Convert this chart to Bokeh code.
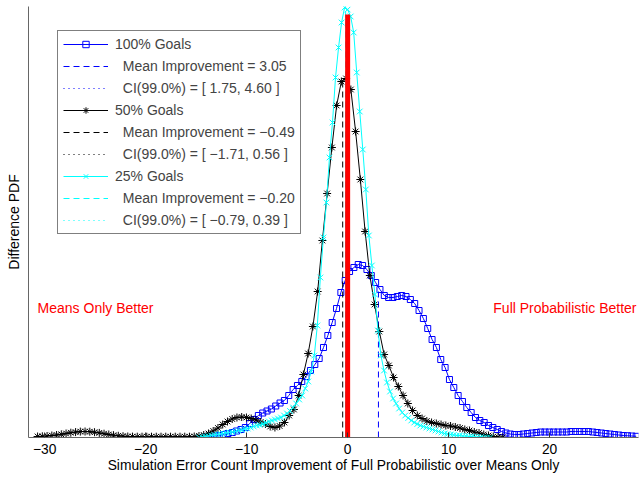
import numpy as np
from bokeh.plotting import figure
from bokeh.models import Range1d, FixedTicker, Legend, LegendItem, Label, CustomJSTickFormatter
from bokeh.embed import file_html
from bokeh.resources import INLINE

FONT = "Liberation Sans"
FS = "14px"
FS_AX = "13.8px"
MINUS = "\u2212"
NBSP = "\u00a0"

# ---------------- data (density estimates, arbitrary PDF units) ----------------
series_names = ["100% Goals", "50% Goals", "25% Goals"]

x_start_100, x_step_100 = -14.0, 0.43
pdf_100 = [0.5, 1, 1.5, 2, 3, 4, 5, 6.5, 8, 10,
           14, 18, 22, 24.5, 26.5, 28.5, 31.5, 34.5, 37, 42,
           48, 52, 56, 61, 67, 73, 79, 90, 102, 115,
           129, 145, 157, 166, 170, 173, 172, 168, 162, 155,
           148, 142, 140, 140, 141, 142, 141, 138, 134, 127,
           119, 109, 98, 90, 78, 70, 58, 50, 42, 36,
           30, 25, 20, 17, 15, 12, 10, 8, 6, 4.5,
           3.5, 3, 3, 3.5, 4, 4.5, 5, 5.5, 5.5, 5.5,
           5.5, 5.5, 5.5, 5.5, 6, 6, 6, 6, 6, 5.5,
           5, 4.5, 4, 3.5, 3, 2.5, 2, 1.8, 1.5, 1.2]

x_start_50, x_step_50 = -30.7, 0.47
pdf_50 = [1, 1.2, 1.5, 2, 2.5, 3.2, 4, 4.8, 5.4, 5.9,
          6, 5.8, 5.3, 4.6, 3.8, 3, 2.3, 1.7, 1.3, 1,
          0.9, 0.8, 0.8, 0.8, 0.8, 0.8, 0.8, 0.8, 0.8, 0.8,
          0.8, 0.8, 0.8, 1, 1.5, 2.5, 4, 6.5, 9.5, 13,
          16, 18.5, 20, 20.5, 20, 19, 17.5, 15.5, 13.5, 11,
          10, 11.5, 15, 22, 28, 42, 63, 84, 111, 146,
          197, 244, 290, 332, 356, 359, 348, 306, 258, 206,
          162, 133, 106, 83, 72, 60, 51, 42, 34, 27,
          22, 19, 16.5, 15, 14, 13, 12, 11.5, 10.5, 9.5,
          8, 7, 5.5, 4.5, 3, 2, 1, 0.5, 0.2]

x_start_25, x_step_25 = -14.7, 0.3
pdf_25 = [0, 0.5, 1, 1.5, 2, 2.5, 3, 3.5, 4, 4.5,
          5, 5.5, 6, 7, 7.5, 8.5, 9, 10, 11, 12,
          12.5, 13.5, 14.5, 16, 17, 18, 19, 20, 22, 24,
          26.5, 30, 34, 38, 42, 49, 56, 66, 82, 112,
          160, 200, 235, 280, 315, 360, 390, 415, 430, 428,
          421, 405, 365, 326, 288, 248, 202, 172, 143, 107,
          82, 67, 55, 46, 39, 34, 29, 25, 22, 19.5,
          17, 15, 13.5, 12, 11, 10, 9, 8, 7, 6,
          5, 4, 3.5, 3, 2.5, 2, 2, 1.5, 1.5, 1,
          1, 0.5, 0.5, 0.5, 0, 0, 0]

mean_improvement = [3.05, -0.49, -0.20]
ci_low = [1.75, -1.71, -0.79]
ci_high = [4.60, 0.56, 0.39]
ci_level = 99.0

x_ticks = [-30, -20, -10, 0, 10, 20]
x_label = "Simulation Error Count Improvement of Full Probabilistic over Means Only"
y_label = "Difference PDF"
left_note = "Means Only Better"
right_note = "Full Probabilistic Better"

colors = ["#0000ff", "#000000", "#00ffff"]
markers = ["square", "asterisk", "x"]
marker_sizes = [6, 8, 8]


def fmt(v):
    return f"{v:.2f}".replace("-", MINUS)


starts = [x_start_100, x_start_50, x_start_25]
steps = [x_step_100, x_step_50, x_step_25]
pdfs = [pdf_100, pdf_50, pdf_25]

W, H = 641, 478
BORDER_L, BORDER_R, BORDER_T, BORDER_B = 28, 3, 6, 41
X0, X1 = -31.6, 28.8
Y_MAX = 431
p = figure(width=W, height=H,
           x_range=Range1d(X0, X1), y_range=Range1d(0, Y_MAX),
           output_backend="svg", toolbar_location=None,
           min_border_left=BORDER_L, min_border_right=BORDER_R,
           min_border_top=BORDER_T, min_border_bottom=BORDER_B)
p.xgrid.visible = False
p.ygrid.visible = False
p.outline_line_color = None
p.background_fill_color = "white"
p.border_fill_color = "white"

items = []
for i in range(3):
    y = np.array(pdfs[i], dtype=float)
    x = starts[i] + steps[i] * np.arange(len(y))
    c = colors[i]
    lr = p.line(x, y, line_color=c, line_width=1)
    if markers[i] == "square":
        sr = p.scatter(x, y, marker="square", size=marker_sizes[i], line_color=c,
                       fill_color=None, line_width=1)
    else:
        sr = p.scatter(x, y, marker=markers[i], size=marker_sizes[i], line_color=c,
                       line_width=1)
    m = mean_improvement[i]
    top = float(np.interp(m, x, y))
    mr = p.line([m, m], [0, top], line_color=c, line_width=1, line_dash="6 4")
    cr = p.line([ci_low[i], ci_high[i]], [0, 0], line_color=c, line_width=1, line_dash="1 4")
    items.append(LegendItem(label=series_names[i], renderers=[lr, sr]))
    items.append(LegendItem(label=NBSP * 2 + f"Mean Improvement = {fmt(m)}", renderers=[mr]))
    items.append(LegendItem(label=NBSP * 2 + f"CI({ci_level:.1f}%) = [ {fmt(ci_low[i])}, {fmt(ci_high[i])} ]",
                            renderers=[cr]))

# zero reference line
p.line([0, 0], [0, 423], line_color="#ff0000", line_width=5)

# annotations
p.add_layout(Label(x=-30.7, y=130, text=left_note, text_color="#ff0000",
                   text_font=FONT, text_font_size=FS,
                   text_align="left", text_baseline="middle"))
p.add_layout(Label(x=28.6, y=130, text=right_note, text_color="#ff0000",
                   text_font=FONT, text_font_size=FS,
                   text_align="right", text_baseline="middle"))

# axes
p.xaxis.ticker = FixedTicker(ticks=x_ticks, minor_ticks=[])
p.xaxis.formatter = CustomJSTickFormatter(
    code="return (tick < 0 ? '\u2212' : '') + Math.abs(tick).toFixed(0);")
p.xaxis.axis_label = x_label
for ax in (p.xaxis, p.yaxis):
    ax.axis_line_color = "#666666"
    ax.axis_line_width = 1
    ax.major_tick_line_color = "#333333"
    ax.minor_tick_in = 0
    ax.minor_tick_out = 0
    ax.axis_label_text_font = FONT
    ax.axis_label_text_font_size = FS_AX
    ax.axis_label_text_font_style = "normal"
    ax.axis_label_text_color = "#000000"
    ax.major_label_text_font = FONT
    ax.major_label_text_font_size = FS_AX
    ax.major_label_text_color = "#000000"
p.xaxis.major_tick_in = 5
p.xaxis.major_tick_out = 0
p.xaxis.major_label_standoff = 6
p.xaxis.axis_label_standoff = 1

p.yaxis.ticker = FixedTicker(ticks=[], minor_ticks=[])
p.yaxis.major_tick_in = 0
p.yaxis.major_tick_out = 0
p.yaxis.major_label_standoff = 0
p.yaxis.axis_label = y_label
p.yaxis.axis_label_standoff = 7
p.yaxis.axis_label_text_font_size = FS

legend = Legend(items=items, location=(29, 203),
                label_text_font=FONT, label_text_font_size=FS,
                glyph_width=45, glyph_height=16, label_height=16,
                label_standoff=7, spacing=6, padding=5, margin=0,
                border_line_color="#000000", border_line_width=1,
                background_fill_color="white", background_fill_alpha=1.0)
p.add_layout(legend)

open("out.html", "w").write(file_html(p, INLINE))
